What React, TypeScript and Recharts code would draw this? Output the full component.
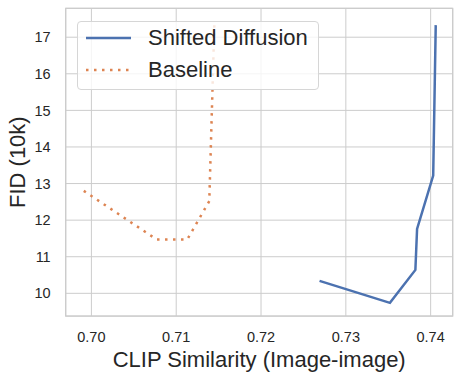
import { CartesianGrid, Legend, Line, LineChart, ReferenceArea, XAxis, YAxis } from 'recharts';

const shiftedX = [0.7269, 0.7352, 0.7382, 0.7384, 0.7403, 0.7406];
const shiftedY = [10.34, 9.74, 10.64, 11.76, 13.22, 17.33];

const baselineX = [0.6991, 0.7077, 0.7113, 0.7139, 0.7145];
const baselineY = [12.8, 11.47, 11.47, 12.52, 17.38];

const seriesNames = ['Shifted Diffusion', 'Baseline'];
const xTicks = [0.7, 0.71, 0.72, 0.73, 0.74];
const yTicks = [10, 11, 12, 13, 14, 15, 16, 17];
const xDomain = [0.69697, 0.7426];
const yDomain = [9.38, 17.79];

const shiftedData = shiftedX.map((x, i) => ({ x, y: shiftedY[i] }));
const baselineData = baselineX.map((x, i) => ({ x, y: baselineY[i] }));

const dashes: Record<string, string | undefined> = {
  'Shifted Diffusion': undefined,
  Baseline: '2.5 5.5',
};

const textColor = '#262626';

const renderLegend = (props: any) => {
  // keep matplotlib's order, not the render order
  const items = [...(props.payload || [])].sort(
    (a: any, b: any) => seriesNames.indexOf(a.value) - seriesNames.indexOf(b.value)
  );
  return (
    <div
      style={{
        width: 242,
        height: 69,
        boxSizing: 'border-box',
        border: '1px solid #d6d6d6',
        borderRadius: 4,
        background: 'rgba(255,255,255,0.8)',
        paddingLeft: 8,
      }}
    >
      {items.map((entry: any) => (
        <div key={entry.value} style={{ display: 'flex', alignItems: 'center', height: 32 }}>
          <svg width={45} height={6}>
            <line
              x1={0}
              y1={3}
              x2={45}
              y2={3}
              stroke={entry.color}
              strokeWidth={2.5}
              strokeDasharray={dashes[entry.value]}
            />
          </svg>
          <span style={{ marginLeft: 17, fontSize: 22, color: textColor, lineHeight: '32px' }}>{entry.value}</span>
        </div>
      ))}
    </div>
  );
};

const App = () => {
  return (
    <div style={{ position: 'absolute', left: 0, top: 0, fontFamily: '"Liberation Sans", Arial, sans-serif' }}>
      <LineChart width={463} height={380} margin={{ top: 8.3, right: 10.3, bottom: 0, left: 0 }}>
        <CartesianGrid stroke="#cccccc" strokeWidth={1} />
        <XAxis
          type="number"
          dataKey="x"
          domain={xDomain}
          ticks={xTicks}
          allowDataOverflow
          height={64}
          tickSize={0}
          tickMargin={16}
          axisLine={false}
          tickFormatter={(v: number) => v.toFixed(2)}
          tick={{ fill: textColor, fontSize: 14.5 }}
          label={{ value: 'CLIP Similarity (Image-image)', position: 'insideBottom', offset: 12.7, fontSize: 22, fill: textColor }}
        />
        <YAxis
          type="number"
          dataKey="y"
          domain={yDomain}
          ticks={yTicks}
          allowDataOverflow
          width={65.7}
          tickSize={0}
          tickMargin={15}
          axisLine={false}
          tick={{ fill: textColor, fontSize: 14.5 }}
          label={{
            value: 'FID (10k)',
            angle: -90,
            position: 'insideLeft',
            offset: 17.5,
            fontSize: 22,
            fill: textColor,
            style: { textAnchor: 'middle' },
          }}
        />
        <ReferenceArea
          x1={xDomain[0]}
          x2={xDomain[1]}
          y1={yDomain[0]}
          y2={yDomain[1]}
          fill="none"
          stroke="#cccccc"
          strokeWidth={1.25}
        />
        <Line
          data={shiftedData}
          dataKey="y"
          name={seriesNames[0]}
          type="linear"
          stroke="#4c72b0"
          strokeWidth={2.5}
          dot={false}
          isAnimationActive={false}
        />
        <Line
          data={baselineData}
          dataKey="y"
          name={seriesNames[1]}
          type="linear"
          stroke="#dd8452"
          strokeWidth={2.5}
          strokeDasharray="2.5 5.5"
          dot={false}
          isAnimationActive={false}
        />
        <Legend
          layout="vertical"
          align="center"
          verticalAlign="middle"
          content={renderLegend}
          wrapperStyle={{ left: 77, top: 21, width: 242, height: 69 }}
        />
      </LineChart>
    </div>
  );
};

export default App;
